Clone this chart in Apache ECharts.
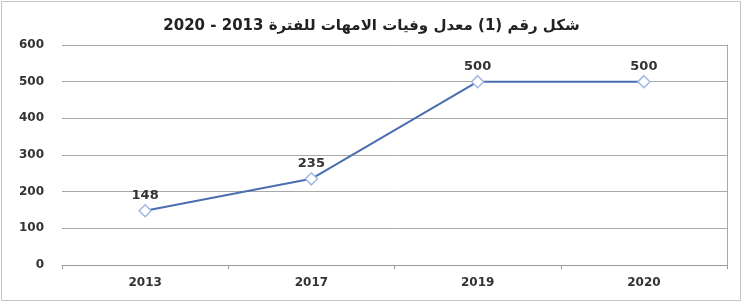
<!DOCTYPE html>
<html>
<head>
<meta charset="utf-8">
<script src="https://cdn.jsdelivr.net/npm/echarts@6/dist/echarts.min.js"></script>
<style>
  html, body { margin: 0; padding: 0; background: #fff; }
  #chart { width: 743px; height: 303px; }
</style>
</head>
<body>
<div id="chart"></div>
<script>
// data
const years = ['2013', '2017', '2019', '2020']
const deaths = [148, 235, 500, 500]
const yTicks = [0, 100, 200, 300, 400, 500, 600]
const titleText = 'شكل رقم (1) معدل وفيات الامهات للفترة 2013 - 2020'

const chart = echarts.init(document.getElementById('chart'))

chart.setOption({
  animation: false,
  title: {
    text: '\u202B' + titleText + '\u202C',
    left: 'center',
    top: 14,
    textStyle: {
      fontFamily: 'DejaVu Sans',
      fontWeight: 'bold',
      fontSize: 15,
      color: '#222'
    }
  },
  graphic: [
    {
      type: 'rect',
      shape: { x: 1.5, y: 1.5, width: 739, height: 299 },
      style: { fill: null, stroke: '#c4c4c4', lineWidth: 1 }
    }
  ],
  grid: {
    left: 62,
    right: 16,
    top: 45,
    bottom: 38
  },
  xAxis: {
    type: 'category',
    data: years,
    boundaryGap: true,
    axisLine: { lineStyle: { color: '#9a9a9a', width: 1 } },
    axisTick: { show: true, length: 4, lineStyle: { color: '#9a9a9a' } },
    axisLabel: {
      color: '#333',
      fontWeight: 'bold',
      fontSize: 12,
      fontFamily: 'DejaVu Sans',
      margin: 12
    }
  },
  yAxis: [
    {
      type: 'value',
      min: yTicks[0],
      max: yTicks[yTicks.length - 1],
      interval: 100,
      axisLine: { show: false },
      axisTick: { show: false },
      axisLabel: {
        color: '#333',
        fontWeight: 'bold',
        fontSize: 12,
        fontFamily: 'DejaVu Sans',
        margin: 18
      },
      splitLine: { lineStyle: { color: '#a8a8a8', width: 1 } }
    },
    {
      type: 'value',
      position: 'right',
      min: yTicks[0],
      max: yTicks[yTicks.length - 1],
      interval: 100,
      axisLine: { show: true, lineStyle: { color: '#a8a8a8' } },
      axisTick: { show: false },
      axisLabel: { show: false },
      splitLine: { show: false }
    }
  ],
  series: [
    {
      type: 'line',
      data: deaths,
      symbol: 'diamond',
      symbolSize: 12,
      lineStyle: { color: '#4a6eb0', width: 2 },
      itemStyle: { color: '#fff', borderColor: '#9fb8e0', borderWidth: 1.5 },
      label: {
        show: true,
        position: 'top',
        distance: 2,
        color: '#333',
        fontWeight: 'bold',
        fontSize: 13,
        fontFamily: 'DejaVu Sans'
      }
    }
  ]
})
</script>
</body>
</html>
